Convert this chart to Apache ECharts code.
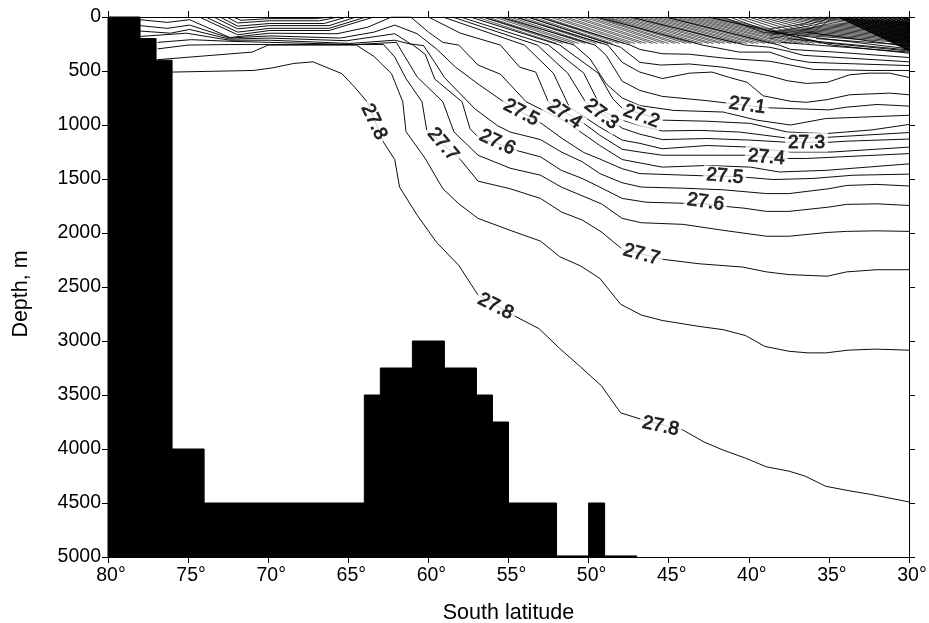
<!DOCTYPE html>
<html><head><meta charset="utf-8">
<style>html,body{margin:0;padding:0;background:#fff}#c{width:929px;height:623px}</style>
<script src="https://cdn.jsdelivr.net/npm/echarts@6/dist/echarts.min.js"></script>
</head><body><div id="c"></div>
<script>
// Bottom topography: [north lat, south lat, top depth]
const bathyLatFrom = [80,78,77,76,74,64,63,61,59,57,56,55,52,50,49];
const bathyLatTo   = [78,77,76,74,64,63,61,59,57,56,55,52,50,49,47];
const bathyDepth   = [0,200,400,4000,4500,3500,3250,3000,3250,3500,3750,4500,4990,4500,4990];

// Isopycnals, [lat, depth] vertices
const c2780 = [[76,510],[70.9,495],[69.7,470],[68.4,430],[67.2,415],[65.4,525],[64.6,650],[63.8,790],[62.8,1160],[62.1,1320],[61.8,1575],[60.7,1835],[59.5,2085],[58.1,2300],[56.9,2575],[54.6,2770],[53.1,2885],[51.8,3070],[50.5,3240],[49.2,3415],[48,3665],[46.4,3740],[44.1,3825],[42.8,3935],[41.6,4010],[40.2,4085],[38.9,4165],[37.5,4205],[36.5,4250],[35.2,4345],[33.8,4385],[32.4,4420],[30,4490]];
const c2775 = [[76.9,395],[71,325],[70,260],[64.5,260],[63.4,365],[62.3,525],[61.6,785],[61.4,1060],[60.2,1310],[59.1,1590],[58.1,1730],[56.9,1865],[54.9,1975],[53,2075],[51.8,2220],[50.5,2305],[49.3,2420],[48,2660],[46.7,2760],[45.4,2810],[43.1,2865],[41.6,2895],[40.2,2950],[39,3050],[37.5,3095],[36.3,3110],[35.2,3110],[33.8,3085],[32.1,3075],[30,3085]];
const c2770 = [[76.9,295],[75,260],[72.4,255],[69.9,255],[62.8,255],[62.1,370],[61.4,570],[60.4,785],[60.1,1050],[58,1320],[56.9,1520],[54.9,1590],[53,1680],[51.7,1805],[50.4,1880],[49.2,1990],[47.9,2150],[45.3,2245],[43.1,2285],[40.4,2315],[38.9,2360],[37.5,2385],[35.1,2400],[33.9,2360],[32,2340],[30,2340]];
const c2765 = [[76.9,235],[74.8,210],[72.4,225],[69.9,235],[64.6,255],[62,235],[60.7,555],[59.1,785],[58.4,1065],[56.9,1280],[54.9,1400],[53,1465],[51.7,1575],[49.2,1730],[47.9,1865],[46.7,1905],[44.1,1920],[41.6,1975],[38.9,2030],[37.5,2030],[35.1,1995],[33.9,1985],[32,1980],[30,1985]];
const c2760 = [[78,180],[75.1,150],[72.4,215],[69.9,215],[64.9,245],[62.1,215],[61,255],[60.2,345],[59.6,575],[57.9,785],[57.4,1035],[56.9,1110],[54.4,1240],[53,1295],[51.7,1420],[50.4,1495],[49.3,1575],[47.9,1680],[46.4,1715],[42.8,1730],[41.4,1755],[40.3,1770],[38.9,1800],[37.5,1800],[35,1760],[33.9,1735],[32,1730],[30,1745]];
const c2755 = [[78,130],[76.1,150],[74.9,115],[72.4,205],[69.9,195],[65.1,220],[62.1,155],[61.1,250],[60.3,265],[59.6,420],[59,560],[57.1,850],[55.7,1005],[54.9,1065],[53,1135],[51.7,1250],[50.4,1340],[49.3,1450],[47.9,1535],[46.7,1575],[44.1,1585],[41.6,1600],[38.9,1635],[37.5,1635],[35,1590],[33.9,1560],[32,1550],[30,1565]];
const c2750 = [[78,80],[76.3,105],[74.9,75],[72.4,195],[69.9,175],[65.5,195],[63.4,140],[62.1,75],[60.7,155],[59.5,295],[58.3,465],[56.9,620],[55.4,775],[52.9,990],[51.6,1130],[50.3,1255],[49.3,1315],[47.9,1405],[46.8,1450],[42.9,1470],[41.5,1475],[40.1,1485],[38.5,1505],[36,1495],[33.5,1465],[30,1455]];
const c2745 = [[78,25],[76.3,50],[74.9,25],[72.4,190],[69.9,150],[65.7,155],[63.8,95],[62.3,0],[61.1,0],[60,140],[59.1,235],[58.1,260],[56.9,445],[55.5,530],[53.9,785],[51.4,970],[49.3,1190],[47.9,1320],[45.4,1390],[42.6,1375],[39.9,1390],[38.1,1435],[35.2,1420],[30,1360]];
const c2740 = [[60,0],[58,150],[55.5,260],[54.3,465],[53.3,510],[52.5,790],[50.2,995],[49.3,1095],[47.9,1225],[46.8,1250],[45.4,1280],[40.1,1280],[37.6,1310],[36.4,1310],[34.3,1295],[30,1265]];
const c2735 = [[59.1,0],[54,260],[52.2,520],[51.2,835],[49.3,1020],[47.9,1140],[46.8,1170],[45.4,1220],[42.6,1190],[39.9,1205],[37.4,1250],[34.8,1250],[30,1205]];
const c2730 = [[58.5,0],[53.2,260],[51.3,520],[50.2,785],[47.9,1030],[46.8,1085],[45.4,1135],[42.6,1125],[39.9,1140],[37.6,1160],[35,1160],[33.9,1150],[30,1130]];
const c2725 = [[58,0],[52.5,260],[50.3,520],[49.1,875],[47.9,955],[46.8,1005],[45.4,1055],[43.1,1050],[40.6,1065],[37.4,1125],[35.2,1115],[30,1070]];
const c2720 = [[57.4,0],[51.8,260],[49.4,520],[48.5,755],[47.9,845],[45.4,955],[42.6,965],[39.9,985],[37.6,1065],[35.2,1080],[32.3,1045],[30,995]];
const c2715 = [[56.6,0],[50.9,260],[49.9,390],[48.9,620],[47.9,750],[46.8,820],[44.7,865],[41.6,880],[39.5,955],[37.4,1000],[35.2,940],[30,910]];
const c2710 = [[55.5,0],[49.6,260],[48.9,355],[47.9,595],[46.8,680],[45.4,735],[42.6,775],[38.9,840],[35,860],[33.9,835],[32,810],[30,825]];
const c2705 = [[54.6,0],[48.8,260],[47.9,420],[46.8,510],[45.4,570],[43.7,520],[42.3,510],[41.2,560],[40.1,605],[39.1,730],[37.4,780],[36.4,790],[35.1,765],[33.7,720],[31.2,705],[30,720]];
const c2700 = [[53.8,0],[48,280],[46.8,420],[45.5,445],[43.7,435],[41.6,465],[39.9,510],[38.7,545],[37.6,590],[36.4,615],[35.1,605],[33.7,535],[32.5,520],[31.2,520],[30,560]];
const c2695 = [[53.1,0],[47.4,260],[46.8,300],[45.4,340],[43.7,345],[41.6,380],[38.7,410],[37.4,445],[36,485],[32.5,495],[30,495]];
const c2690 = [[49.5,0],[42.9,260],[40.6,325],[38.7,325],[37.4,390],[36.2,420],[30,450]];
const c2685 = [[47.4,0],[40.2,260],[38.7,280],[37.6,315],[36.6,355],[30,415]];
const c2680 = [[45.2,0],[38.1,260],[37.4,300],[34.6,325],[30,375]];
const c2675 = [[42.5,0],[34.8,260],[30,335]];

// Short near-surface contours on the western side
const fanA = [[74.3,0],[71.9,165],[69.9,125],[66.2,125],[63.4,0]];
const fanB = [[73.9,0],[71.9,140],[69.9,105],[66.2,105],[63.9,0]];
const fanC = [[73.4,0],[71.9,110],[69.9,80],[66.2,80],[64.5,0]];
const fanD = [[73,0],[71.9,85],[69.9,60],[66.5,60],[65.1,0]];
const fanE = [[72.6,0],[71.9,55],[69.9,35],[66.8,35],[65.6,0]];
const fanF = [[72.2,0],[71.7,30],[69.9,15],[67.1,15],[66,0]];

// Dense upper-layer hatching, west part
const hatchFromLat = [57,56.6,56.3,55.9,55.6,55.2,54.9,54.5,54.2,53.8,53.5,53.1,52.8,52.4,52.1,51.7,51.4,51,50.7,50.3,50,49.7,49.5,49.2,49,48.8,48.5,48.2,47.9,47.6,47.3,47,46.7,46.4,46.1,45.8,45.5,45.2,44.9,44.6,44.3,44,43.7,43.4,43.1,42.8,42.5,42.2,41.9];
const hatchToLat   = [52,51.6,51.3,50.9,50.6,50.2,49.9,49.5,49.2,48.8,48.5,48.1,47.8,47.4,47.1,46.7,46.4,46,45.7,45.3,45,44.6,44.3,43.9,43.6,43.2,42.9,42.5,42.2,41.8,41.5,41.1,40.8,40.4,40.1,39.7,39.4,39,38.7,38.3,38,37.6,37.3,36.9,36.6,36.2,35.9,35.5,35.2];
const hatchEndDepth = 245;

// Dense upper-layer hatching, running on to the right edge
const longFromLat = [41.6,41.2,40.8,40.4,40,39.6,39.2,38.8,38.4,38,37.6,37.2,36.8,36.4,36,35.6,35.2];
const longMidLat  = [39.1,38.7,38.3,37.9,37.5,37.1,36.7,36.3,35.9,35.5,35.1,34.7,34.3,33.9,33.5,33.1,32.7];
const longMidDepth = [144,137,130,122,115,108,101,94,86,79,72,65,58,50,43,36,29];
const longToDepth = [240,228,216,204,192,180,168,156,144,132,120,108,96,84,72,60,48];

// Arcs rising to the surface near 35 degrees
const arcA = [[38.7,200],[35.9,130],[34.7,0]];
const arcB = [[38.7,170],[36.1,105],[35,0]];
const arcC = [[38.7,140],[36.3,85],[35.3,0]];
const arcD = [[38.7,110],[36.5,65],[35.6,0]];

// Eastern surface fan, reaching the right edge
const eastFromLat = [34.4,34.3,34.1,34,33.8,33.7,33.5,33.4,33.2,33.1,32.9,32.8,32.6,32.5,32.3,32.2,32,31.9,31.7,31.6,31.4,31.3,31.1,31,30.8,30.7,30.5,30.4,30.3,30.2];
const eastToDepth = [310,300,290,280,270,260,250,240,230,220,210,200,190,180,170,160,150,140,130,120,110,100,90,80,70,60,50,40,30,20];
const flatFromLat = [38,37.6,37,36.4,35.8,35.2];
const flatFromDepth = [235,200,170,140,200,240];
const flatToDepth = [325,305,295,275,260,315];

// Contour labels
const labelTexts  = ['27.8','27.7','27.6','27.5','27.4','27.3','27.2','27.1','27.3','27.4','27.5','27.6','27.7','27.8','27.8'];
const labelLats   = [63.4,59.1,55.7,54.2,51.5,49.2,46.7,40.1,36.4,38.9,41.5,42.7,46.7,55.8,45.5];
const labelDepths = [970,1180,1160,885,900,900,920,820,1160,1300,1475,1715,2200,2680,3790];
const labelAngles = [-65,-50,-25,-28,-35,-38,-20,-8,0,-5,-5,-8,-15,-27,-12];

const xTicks = {min:30,max:80,interval:5};
const yTicks = {min:0,max:5000,interval:500};
const FONT = '"Liberation Sans", Arial, Helvetica, sans-serif';

const lineSeries = (d,w)=>({
  type:'line',data:d,showSymbol:false,symbol:'none',silent:true,animation:false,z:2,
  lineStyle:{color:'#000',width:w}
});
const contours = [c2780,c2775,c2770,c2765,c2760,c2755,c2750,c2745,c2740,c2735,c2730,c2725,c2720,c2715,c2710,c2705,c2700,c2695,c2690,c2685,c2680,c2675,fanA,fanB,fanC,fanD,fanE,fanF];
const series = contours.map(d=>lineSeries(d,0.95));
[arcA,arcB,arcC,arcD].forEach(d=>series.push(lineSeries(d,0.7)));
hatchFromLat.forEach((lat,i)=>series.push(lineSeries([[lat,0],[hatchToLat[i],hatchEndDepth]],0.65)));
longFromLat.forEach((lat,i)=>series.push(lineSeries([[lat,0],[longMidLat[i],longMidDepth[i]],[30,longToDepth[i]]],0.8)));
eastFromLat.forEach((lat,i)=>series.push(lineSeries([[lat,0],[30,eastToDepth[i]]],1.2)));
flatFromLat.forEach((lat,i)=>series.push(lineSeries([[lat,flatFromDepth[i]],[30,flatToDepth[i]]],0.9)));
series.push({
  type:'custom',silent:true,animation:false,z:3,
  data:bathyDepth.map((d,i)=>[bathyLatFrom[i],bathyLatTo[i],d]),
  encode:{x:[0,1],y:2},
  renderItem(params,api){
    const a=api.coord([api.value(0),api.value(2)]);
    const b=api.coord([api.value(1),5000]);
    return {type:'rect',shape:{x:a[0],y:a[1],width:b[0]-a[0],height:b[1]-a[1]},
      style:{fill:'#000',stroke:'#000',lineWidth:1}};
  }
});
series.push({
  type:'scatter',silent:true,animation:false,z:5,symbolSize:0,
  data:labelTexts.map((t,i)=>({name:t,value:[labelLats[i],labelDepths[i]],
    label:{rotate:labelAngles[i]}})),
  label:{show:true,position:'inside',formatter:'{b}',fontFamily:FONT,fontSize:19,color:'#000',
    textBorderColor:'#000',textBorderWidth:0.9,backgroundColor:'#fff',padding:[0,3]}
});

const axisCommon = {
  axisLine:{show:true,onZero:false,lineStyle:{color:'#000',width:1}},
  axisTick:{show:true,inside:false,length:6,lineStyle:{color:'#000',width:1}},
  splitLine:{show:false},z:10
};
const labelStyle = {fontFamily:FONT,fontSize:19.5,color:'#000'};

echarts.init(document.getElementById('c'),null,{renderer:'canvas'}).setOption({
  animation:false,backgroundColor:'#fff',
  grid:{left:108,right:20,top:17,bottom:66,containLabel:false,outerBoundsMode:'none'},
  xAxis:[
    Object.assign({type:'value',inverse:true,position:'bottom',...xTicks,
      axisLabel:{...labelStyle,margin:9,padding:[0,0,0,6],hideOverlap:false,showMinLabel:true,showMaxLabel:true,formatter:v=>v+'°'},
      name:'South latitude',nameLocation:'middle',nameGap:45,nameMoveOverlap:false,
      nameTextStyle:{fontFamily:FONT,fontSize:21.5,color:'#000'}},axisCommon),
    Object.assign({type:'value',inverse:true,position:'top',...xTicks,axisLabel:{show:false}},axisCommon)
  ],
  yAxis:[
    Object.assign({type:'value',inverse:true,position:'left',...yTicks,
      axisLabel:{...labelStyle,margin:7,hideOverlap:false,showMinLabel:true,showMaxLabel:true,formatter:v=>String(v)},
      name:'Depth, m',nameLocation:'middle',nameGap:76,nameRotate:90,nameMoveOverlap:false,
      nameTextStyle:{fontFamily:FONT,fontSize:21.5,color:'#000',padding:[0,14,0,0]}},axisCommon),
    Object.assign({type:'value',inverse:true,position:'right',...yTicks,axisLabel:{show:false}},axisCommon)
  ],
  series
});
</script></body></html>
